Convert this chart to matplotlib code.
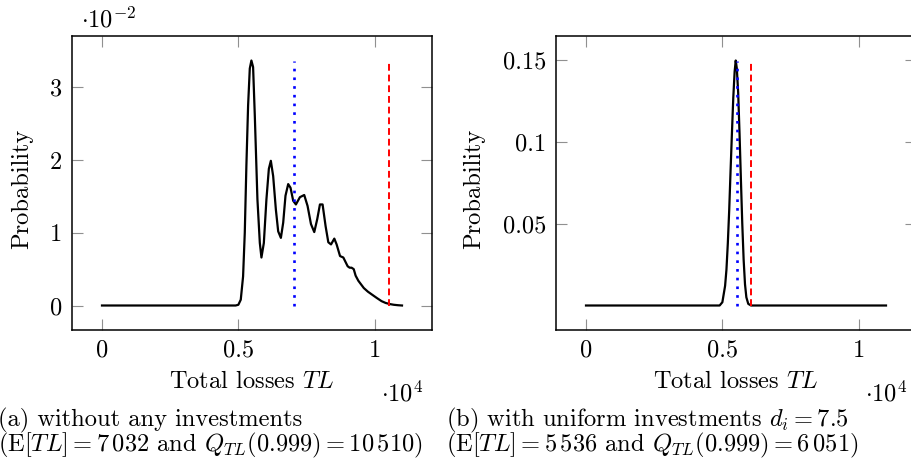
import matplotlib
matplotlib.use("Agg")
import matplotlib.pyplot as plt
from matplotlib.ticker import FuncFormatter

# distribution of total losses, no investments
tl_a = [0, 4900, 5000, 5088, 5173, 5235, 5294, 5357, 5419, 5478, 5540, 5603,
        5699, 5787, 5846, 5934, 6029, 6118, 6191, 6276, 6375, 6460, 6559,
        6644, 6728, 6827, 6912, 7011, 7110, 7257, 7415, 7537, 7662, 7783,
        7893, 7991, 8088, 8199, 8298, 8397, 8518, 8603, 8728, 8849, 9007,
        9080, 9150, 9230, 9300, 9400, 9500, 9600, 9750, 9900, 10090, 10250,
        10400, 10550, 10700, 10850, 11000]
prob_a = [0, 0, 0.0001, 0.0008, 0.0040, 0.0100, 0.0192, 0.0275, 0.0326,
          0.0337, 0.0328, 0.0261, 0.0146, 0.0086, 0.0066, 0.0086, 0.0146,
          0.0188, 0.0199, 0.0178, 0.0132, 0.0102, 0.0093, 0.0114, 0.0151,
          0.0167, 0.0162, 0.0144, 0.0139, 0.0149, 0.0152, 0.0137, 0.0112,
          0.0101, 0.0119, 0.0139, 0.0139, 0.0109, 0.0087, 0.0084, 0.0092,
          0.0084, 0.0068, 0.0066, 0.0054, 0.0052, 0.0052, 0.0050, 0.0041,
          0.0034, 0.0029, 0.0024, 0.0019, 0.0015, 0.0010, 0.0006, 0.00035,
          0.0002, 0.0001, 0.00004, 0]

# distribution with uniform investments d_i = 7.5
tl_b = [0, 4900, 5000, 5100, 5150, 5200, 5250, 5300, 5350, 5400, 5450, 5490,
        5530, 5580, 5630, 5680, 5730, 5780, 5830, 5880, 5950, 6050, 11000]
prob_b = [0, 0, 0.002, 0.012, 0.022, 0.038, 0.058, 0.082, 0.105, 0.127,
          0.143, 0.1498, 0.145, 0.130, 0.105, 0.077, 0.050, 0.028, 0.013,
          0.005, 0.001, 0, 0]

# expected value and 0.999 quantile
mean_a, q_a, top_a = 7032, 10510, 0.0337
mean_b, q_b, top_b = 5536, 6051, 0.1498

yticks_a = [0, 0.01, 0.02, 0.03]
yticks_b = [0.05, 0.1, 0.15]
xticks = [0, 5000, 10000]

FS = 17.6
plt.rcParams['font.family'] = 'serif'
plt.rcParams['font.serif'] = ['cmr10']
plt.rcParams['mathtext.fontset'] = 'cm'
plt.rcParams['axes.unicode_minus'] = False
plt.rcParams['axes.formatter.use_mathtext'] = True
plt.rcParams['font.size'] = FS

W, H = 911, 468
fig = plt.figure(figsize=(W / 100, H / 100), dpi=100)
ax1 = fig.add_axes([72 / W, 138 / H, 360 / W, 294 / H])
ax2 = fig.add_axes([556 / W, 138 / H, 360 / W, 294 / H])


def style(ax, tl, prob, mean, q, top, yticks, yfmt):
    ax.plot(tl, prob, color='black', lw=1.6)
    ax.plot([mean, mean], [0, top], color='blue', lw=1.9,
            linestyle=(0, (1, 2.3)))
    ax.plot([q, q], [0, top], color='red', lw=1.4,
            linestyle=(0, (3.5, 2.0)))
    ax.set_xlim(-1100, 12100)
    ax.set_ylim(-0.1 * top, 1.1 * top)
    ax.set_xticks(xticks)
    ax.set_yticks(yticks)
    ax.xaxis.set_major_formatter(FuncFormatter(lambda v, p: '%g' % (v / 1e4)))
    ax.yaxis.set_major_formatter(FuncFormatter(yfmt))
    ax.tick_params(direction='in', length=8, width=0.8, color='#909090',
                   top=True, right=True, labelsize=FS, pad=7)
    for s in ax.spines.values():
        s.set_linewidth(1.1)
    ax.set_xlabel(r'Total losses $TL$', va='top')
    ax.xaxis.set_label_coords(0.5, -0.14)
    ax.set_ylabel('Probability', va='center')


style(ax1, tl_a, prob_a, mean_a, q_a, top_a, yticks_a,
      lambda v, p: '%g' % round(v * 100, 6))
style(ax2, tl_b, prob_b, mean_b, q_b, top_b, yticks_b,
      lambda v, p: '%g' % v)
ax1.yaxis.set_label_coords(-0.139, 0.48)
ax2.yaxis.set_label_coords(-0.228, 0.48)

fig.text(81 / W, 1 - 27 / H, r'$\cdot 10^{-2}$', va='baseline', ha='left')
fig.text(381 / W, 1 - 401 / H, r'$\cdot 10^{4}$', va='baseline', ha='left')
fig.text(865 / W, 1 - 401 / H, r'$\cdot 10^{4}$', va='baseline', ha='left')

fig.text(-2 / W, 1 - 426 / H, '(a) without any investments',
         va='baseline', ha='left')
fig.text(-2 / W, 1 - 451 / H,
         r'(E$[TL] = 7\,032$ and $Q_{TL}(0.999) = 10\,510$)',
         va='baseline', ha='left')
fig.text(446 / W, 1 - 426 / H, r'(b) with uniform investments $d_i = 7.5$',
         va='baseline', ha='left')
fig.text(446 / W, 1 - 451 / H,
         r'(E$[TL] = 5\,536$ and $Q_{TL}(0.999) = 6\,051$)',
         va='baseline', ha='left')

fig.savefig('out.png', dpi=100)
